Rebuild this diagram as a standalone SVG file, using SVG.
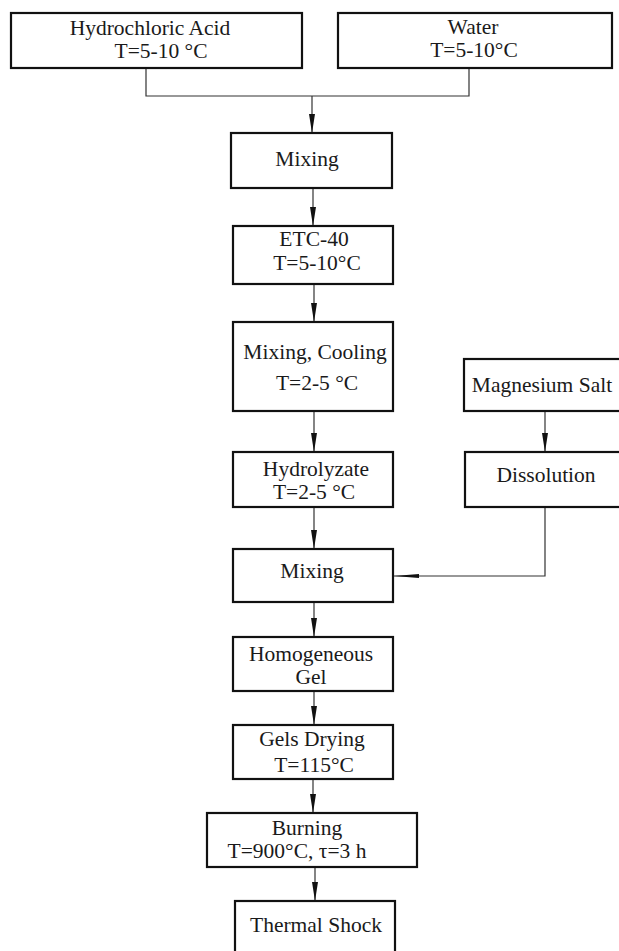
<svg xmlns="http://www.w3.org/2000/svg" width="619" height="951" viewBox="0 0 619 951">
<defs>
<marker id="arr" markerUnits="userSpaceOnUse" markerWidth="20" markerHeight="8" refX="19" refY="3" orient="auto" viewBox="0 0 20 6">
<path d="M0,0 L19,3 L0,6 Z" fill="#111"/>
</marker>
<marker id="arrL" markerUnits="userSpaceOnUse" markerWidth="26" markerHeight="6" refX="25" refY="2.5" orient="auto" viewBox="0 0 26 5">
<path d="M0,0.5 L25,2.5 L0,4.5 Z" fill="#111"/>
</marker>
<style>
.box{fill:#fff;stroke:#111;stroke-width:2.2}
.t{font-family:"Liberation Serif","Times New Roman",serif;font-size:21.5px;fill:#1a1a1a;text-anchor:middle}
.c{fill:none;stroke:#333;stroke-width:1.2}
</style>
</defs>
<rect width="619" height="951" fill="#fff"/>
<g id="connectors">
<path class="c" d="M146,68 V96 H469 V68"/>
<path class="c" d="M312,96 V133" marker-end="url(#arr)"/>
<path class="c" d="M313,188 V226" marker-end="url(#arr)"/>
<path class="c" d="M314,284 V322" marker-end="url(#arr)"/>
<path class="c" d="M314,411 V452" marker-end="url(#arr)"/>
<path class="c" d="M545,411 V452" marker-end="url(#arr)"/>
<path class="c" d="M314,507 V549" marker-end="url(#arr)"/>
<path class="c" d="M545,507 V576 H394" marker-end="url(#arrL)"/>
<path class="c" d="M314,602 V637" marker-end="url(#arr)"/>
<path class="c" d="M314,691 V725" marker-end="url(#arr)"/>
<path class="c" d="M313,779 V813" marker-end="url(#arr)"/>
<path class="c" d="M315,867 V901" marker-end="url(#arr)"/>
</g>
<g id="hcl">
<rect class="box" x="11" y="13" width="291" height="55"/>
<text class="t" x="150" y="35">Hydrochloric Acid</text>
<text class="t" x="161" y="58">T=5-10 °C</text>
</g>
<g id="water">
<rect class="box" x="338" y="13" width="274" height="55"/>
<text class="t" x="473" y="34">Water</text>
<text class="t" x="474" y="57">T=5-10°C</text>
</g>
<g id="mixing1">
<rect class="box" x="231" y="133" width="161" height="55"/>
<text class="t" x="307" y="166">Mixing</text>
</g>
<g id="etc40">
<rect class="box" x="233" y="226" width="160" height="58"/>
<text class="t" x="314" y="246">ETC-40</text>
<text class="t" x="317" y="270">T=5-10°C</text>
</g>
<g id="mixcool">
<rect class="box" x="233" y="322" width="160" height="89"/>
<text class="t" x="315" y="359">Mixing, Cooling</text>
<text class="t" x="317" y="390">T=2-5 °C</text>
</g>
<g id="magnesium">
<rect class="box" x="464" y="359" width="165" height="52"/>
<text class="t" x="542" y="392">Magnesium Salt</text>
</g>
<g id="hydrolyzate">
<rect class="box" x="233" y="452" width="160" height="55"/>
<text class="t" x="316" y="476">Hydrolyzate</text>
<text class="t" x="314" y="499">T=2-5 °C</text>
</g>
<g id="dissolution">
<rect class="box" x="465" y="452" width="164" height="55"/>
<text class="t" x="546" y="482">Dissolution</text>
</g>
<g id="mixing2">
<rect class="box" x="233" y="549" width="160" height="53"/>
<text class="t" x="312" y="578">Mixing</text>
</g>
<g id="homogeneous">
<rect class="box" x="233" y="637" width="160" height="54"/>
<text class="t" x="311" y="661">Homogeneous</text>
<text class="t" x="311" y="684">Gel</text>
</g>
<g id="drying">
<rect class="box" x="233" y="725" width="160" height="54"/>
<text class="t" x="312" y="746">Gels Drying</text>
<text class="t" x="314" y="772">T=115°C</text>
</g>
<g id="burning">
<rect class="box" x="207" y="813" width="210" height="54"/>
<text class="t" x="307" y="835">Burning</text>
<text class="t" x="297" y="858">T=900°C, τ=3 h</text>
</g>
<g id="shock">
<rect class="box" x="235" y="901" width="160" height="60"/>
<text class="t" x="316" y="932">Thermal Shock</text>
</g>
</svg>
